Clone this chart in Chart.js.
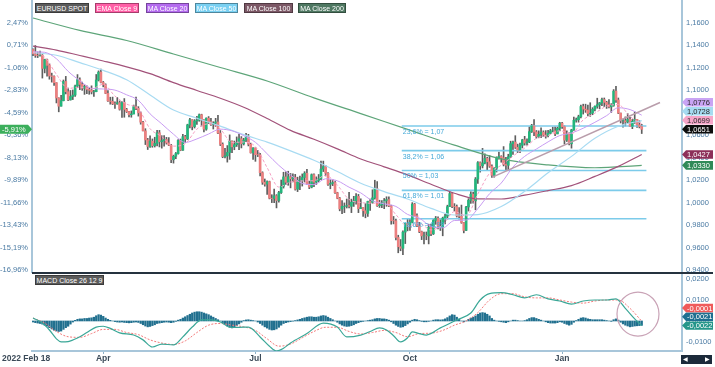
<!DOCTYPE html>
<html>
<head>
<meta charset="utf-8">
<title>EURUSD SPOT</title>
<script src="https://cdn.jsdelivr.net/npm/chart.js@4.4.1/dist/chart.umd.min.js"></script>
<style>
    html, body { margin: 0; padding: 0; background: #fff; }
    #wrap { position: relative; width: 715px; height: 367px; overflow: hidden; font-family: "Liberation Sans", Arial, sans-serif; }
    #priceChart { position: absolute; left: 0; top: 0; }
    #macdChart { position: absolute; left: 0; top: 273px; }
    .badge { position: absolute; height: 10px; line-height: 9px; font-size: 7px; color: #fff; text-align: center;
             border: 1px solid rgba(0, 0, 0, 0.35); box-sizing: border-box; white-space: nowrap; }
    #sep { position: absolute; left: 32px; top: 272px; width: 681px; height: 2px; background: #25323f; }
    #firstDate { position: absolute; left: 2px; top: 353px; font-size: 8.5px; font-weight: bold; color: #3b4a58; }
    #nav { position: absolute; left: 681px; top: 355px; width: 31px; height: 9px; background: #1c2a3a; color: #fff;
           font-size: 6px; line-height: 9px; }
    #nav span { position: absolute; top: 0; }
</style>
</head>
<body>
<div id="wrap">
    <canvas id="priceChart" width="715" height="273"></canvas>
    <canvas id="macdChart" width="715" height="94"></canvas>
    <div id="sep"></div>

    <div class="badge" style="left:35px;top:3px;width:54px;background:#5b5b5b;">EURUSD SPOT</div>
    <div class="badge" style="left:95px;top:3px;width:44px;background:#ff5fa6;">EMA Close 9</div>
    <div class="badge" style="left:146px;top:3px;width:43px;background:#b46bef;">MA Close 20</div>
    <div class="badge" style="left:195px;top:3px;width:43px;background:#79d0f2;">MA Close 50</div>
    <div class="badge" style="left:244px;top:3px;width:49px;background:#7c5866;">MA Close 100</div>
    <div class="badge" style="left:298px;top:3px;width:48px;background:#4f7862;">MA Close 200</div>
    <div class="badge" style="left:35px;top:275px;width:69px;background:#5b5b5b;">MACD Close 26 12 9</div>

    <div id="firstDate">2022 Feb 18</div>
    <div id="nav"><span style="left:2px;">&#9664;</span><span style="left:24px;">&#9654;</span></div>
</div>

<script>
// ---- data: EURUSD daily sessions, 2022-02-18 (index 0) to 2023-02-17 (index 260) ----
const firstOpen = 1.1360;
const closes = [
    1.1322, 1.1308, 1.1307, 1.1309, 1.1192, 1.1270, 1.1219, 1.1125, 1.1121, 1.1065,
    1.0929, 1.0856, 1.0905, 1.1076, 1.0985, 1.0912, 1.0942, 1.0955, 1.1036, 1.1092,
    1.1050, 1.1015, 1.1031, 1.1005, 1.0997, 1.0983, 1.0985, 1.1089, 1.1159, 1.1067,
    1.1046, 1.0970, 1.0903, 1.0899, 1.0877, 1.0876, 1.0887, 1.0829, 1.0889, 1.0827,
    1.0808, 1.0780, 1.0787, 1.0852, 1.0836, 1.0797, 1.0714, 1.0637, 1.0556, 1.0498,
    1.0545, 1.0505, 1.0525, 1.0620, 1.0540, 1.0550, 1.0560, 1.0530, 1.0510, 1.0380,
    1.0411, 1.0435, 1.0552, 1.0465, 1.0585, 1.0565, 1.0690, 1.0735, 1.0675, 1.0725,
    1.0732, 1.0780, 1.0734, 1.0652, 1.0749, 1.0719, 1.0694, 1.0705, 1.0716, 1.0617,
    1.0518, 1.0408, 1.0414, 1.0445, 1.0545, 1.0495, 1.0514, 1.0534, 1.0567, 1.0522,
    1.0555, 1.0583, 1.0518, 1.0442, 1.0484, 1.0425, 1.0424, 1.0265, 1.0180, 1.0163,
    1.0185, 1.0038, 1.0035, 1.0060, 1.0018, 1.0088, 1.0143, 1.0227, 1.0180, 1.0229,
    1.0211, 1.0224, 1.0118, 1.0198, 1.0198, 1.0222, 1.0260, 1.0165, 1.0137, 1.0247,
    1.0181, 1.0197, 1.0211, 1.0297, 1.0320, 1.0260, 1.0162, 1.0169, 1.0178, 1.0087,
    1.0038, 0.9943, 0.9966, 0.9967, 0.9973, 0.9966, 1.0002, 1.0016, 1.0054, 0.9945,
    0.9955, 0.9927, 0.9903, 1.0010, 1.0001, 1.0041, 1.0123, 0.9972, 0.9979, 0.9998,
    1.0015, 1.0026, 0.9970, 0.9839, 0.9837, 0.9689, 0.9607, 0.9593, 0.9737, 0.9813,
    0.9802, 0.9824, 0.9985, 0.9883, 0.9792, 0.9741, 0.9703, 0.9704, 0.9703, 0.9780,
    0.9722, 0.9841, 0.9860, 0.9775, 0.9779, 0.9861, 0.9879, 0.9963, 1.0079, 0.9965,
    0.9964, 0.9881, 0.9877, 0.9822, 0.9752, 0.9960, 1.0019, 1.0074, 1.0014, 1.0208,
    1.0354, 1.0326, 1.0352, 1.0392, 1.0362, 1.0323, 1.0242, 1.0304, 1.0397, 1.0409,
    1.0397, 1.0338, 1.0331, 1.0406, 1.0523, 1.0537, 1.0491, 1.0466, 1.0509, 1.0557,
    1.0529, 1.0538, 1.0630, 1.0681, 1.0627, 1.0586, 1.0606, 1.0625, 1.0600, 1.0594,
    1.0615, 1.0637, 1.0637, 1.0610, 1.0660, 1.0705, 1.0674, 1.0554, 1.0606, 1.0522,
    1.0645, 1.0731, 1.0736, 1.0762, 1.0853, 1.0830, 1.0822, 1.0790, 1.0794, 1.0829,
    1.0855, 1.0870, 1.0886, 1.0915, 1.0890, 1.0870, 1.0850, 1.0863, 1.0990, 1.0911,
    1.0795, 1.0726, 1.0727, 1.0715, 1.0740, 1.0677, 1.0722, 1.0739, 1.0690, 1.0675,
    1.0651
];
const highs = [
    1.1366, 1.1395, 1.1339, 1.1345, 1.1315, 1.1274, 1.1275, 1.1234, 1.1150, 1.1126,
    1.1065, 1.0931, 1.0952, 1.1089, 1.1121, 1.1018, 1.0996, 1.1000, 1.1043, 1.1137,
    1.1109, 1.1070, 1.1045, 1.1038, 1.1018, 1.1037, 1.0997, 1.1138, 1.1170, 1.1185,
    1.1076, 1.1055, 1.0994, 1.0936, 1.0937, 1.0895, 1.0933, 1.0903, 1.0897, 1.0924,
    1.0837, 1.0811, 1.0814, 1.0866, 1.0936, 1.0852, 1.0805, 1.0721, 1.0656, 1.0570,
    1.0593, 1.0565, 1.0580, 1.0642, 1.0641, 1.0594, 1.0594, 1.0579, 1.0577, 1.0517,
    1.0421, 1.0445, 1.0560, 1.0564, 1.0606, 1.0597, 1.0696, 1.0749, 1.0737, 1.0737,
    1.0765, 1.0787, 1.0785, 1.0738, 1.0753, 1.0764, 1.0748, 1.0718, 1.0748, 1.0774,
    1.0640, 1.0530, 1.0481, 1.0506, 1.0601, 1.0548, 1.0546, 1.0583, 1.0606, 1.0586,
    1.0571, 1.0615, 1.0606, 1.0528, 1.0488, 1.0486, 1.0463, 1.0437, 1.0273, 1.0209,
    1.0192, 1.0190, 1.0069, 1.0119, 1.0070, 1.0100, 1.0200, 1.0269, 1.0273, 1.0278,
    1.0258, 1.0254, 1.0250, 1.0225, 1.0234, 1.0254, 1.0274, 1.0294, 1.0190, 1.0254,
    1.0254, 1.0228, 1.0249, 1.0368, 1.0368, 1.0328, 1.0265, 1.0202, 1.0203, 1.0190,
    1.0091, 1.0045, 1.0016, 0.9996, 1.0031, 1.0091, 1.0030, 1.0055, 1.0079, 1.0072,
    1.0033, 0.9955, 0.9990, 1.0012, 1.0030, 1.0113, 1.0198, 1.0187, 1.0020, 1.0017,
    1.0036, 1.0051, 1.0050, 0.9976, 0.9876, 0.9853, 0.9709, 0.9671, 0.9749, 0.9815,
    0.9854, 0.9853, 0.9999, 0.9992, 0.9900, 0.9823, 0.9746, 0.9737, 0.9738, 0.9807,
    0.9808, 0.9854, 0.9876, 0.9873, 0.9848, 0.9870, 0.9894, 0.9976, 1.0094, 1.0088,
    0.9990, 0.9978, 0.9954, 0.9977, 0.9823, 0.9965, 1.0034, 1.0096, 1.0093, 1.0222,
    1.0364, 1.0361, 1.0481, 1.0433, 1.0403, 1.0417, 1.0335, 1.0310, 1.0406, 1.0448,
    1.0416, 1.0497, 1.0401, 1.0429, 1.0545, 1.0545, 1.0594, 1.0519, 1.0528, 1.0562,
    1.0588, 1.0567, 1.0673, 1.0695, 1.0736, 1.0640, 1.0637, 1.0664, 1.0637, 1.0639,
    1.0641, 1.0650, 1.0670, 1.0673, 1.0672, 1.0713, 1.0712, 1.0683, 1.0637, 1.0619,
    1.0651, 1.0760, 1.0751, 1.0776, 1.0866, 1.0874, 1.0874, 1.0867, 1.0887, 1.0843,
    1.0860, 1.0927, 1.0890, 1.0928, 1.0929, 1.0900, 1.0914, 1.0879, 1.1004, 1.1033,
    1.0929, 1.0795, 1.0742, 1.0761, 1.0790, 1.0756, 1.0738, 1.0805, 1.0740, 1.0728,
    1.0695
];
const lows = [
    1.1306, 1.1290, 1.1288, 1.1300, 1.1106, 1.1152, 1.1123, 1.1096, 1.1070, 1.1040,
    1.0885, 1.0806, 1.0856, 1.0903, 1.0965, 1.0905, 1.0910, 1.0915, 1.0942, 1.1020,
    1.1003, 1.0997, 1.0961, 1.0967, 1.0962, 1.0965, 1.0944, 1.0984, 1.1080, 1.1064,
    1.1028, 1.0967, 1.0899, 1.0874, 1.0870, 1.0837, 1.0873, 1.0821, 1.0757, 1.0758,
    1.0800, 1.0760, 1.0758, 1.0787, 1.0825, 1.0768, 1.0696, 1.0637, 1.0515, 1.0471,
    1.0490, 1.0491, 1.0493, 1.0502, 1.0494, 1.0483, 1.0501, 1.0519, 1.0505, 1.0354,
    1.0350, 1.0389, 1.0430, 1.0460, 1.0462, 1.0532, 1.0559, 1.0664, 1.0646, 1.0662,
    1.0694, 1.0722, 1.0680, 1.0627, 1.0642, 1.0702, 1.0685, 1.0653, 1.0675, 1.0612,
    1.0506, 1.0398, 1.0397, 1.0359, 1.0383, 1.0444, 1.0469, 1.0498, 1.0470, 1.0485,
    1.0511, 1.0540, 1.0503, 1.0439, 1.0382, 1.0366, 1.0408, 1.0236, 1.0161, 1.0145,
    1.0071, 1.0032, 0.9999, 0.9998, 0.9952, 1.0004, 1.0080, 1.0128, 1.0160, 1.0153,
    1.0130, 1.0183, 1.0110, 1.0097, 1.0113, 1.0146, 1.0182, 1.0160, 1.0123, 1.0130,
    1.0141, 1.0160, 1.0183, 1.0202, 1.0275, 1.0236, 1.0152, 1.0122, 1.0150, 1.0080,
    1.0033, 0.9926, 0.9901, 0.9910, 0.9951, 0.9951, 0.9910, 0.9965, 0.9985, 0.9910,
    0.9945, 0.9877, 0.9864, 0.9876, 0.9929, 0.9993, 1.0030, 0.9966, 0.9956, 0.9954,
    0.9945, 0.9966, 0.9964, 0.9807, 0.9810, 0.9668, 0.9553, 0.9571, 0.9536, 0.9635,
    0.9748, 0.9751, 0.9818, 0.9873, 0.9786, 0.9732, 0.9670, 0.9631, 0.9669, 0.9632,
    0.9705, 0.9715, 0.9806, 0.9765, 0.9751, 0.9704, 0.9809, 0.9853, 0.9963, 0.9954,
    0.9924, 0.9871, 0.9851, 0.9815, 0.9730, 0.9750, 0.9924, 0.9992, 0.9994, 0.9935,
    1.0170, 1.0270, 1.0307, 1.0343, 1.0290, 1.0312, 1.0223, 1.0225, 1.0271, 1.0386,
    1.0358, 1.0325, 1.0290, 1.0290, 1.0398, 1.0428, 1.0480, 1.0444, 1.0443, 1.0485,
    1.0510, 1.0509, 1.0532, 1.0622, 1.0595, 1.0572, 1.0575, 1.0577, 1.0585, 1.0572,
    1.0584, 1.0610, 1.0627, 1.0595, 1.0610, 1.0637, 1.0659, 1.0520, 1.0542, 1.0512,
    1.0483, 1.0640, 1.0714, 1.0714, 1.0752, 1.0786, 1.0801, 1.0769, 1.0766, 1.0780,
    1.0813, 1.0838, 1.0833, 1.0860, 1.0853, 1.0836, 1.0840, 1.0801, 1.0855, 1.0890,
    1.0790, 1.0707, 1.0669, 1.0680, 1.0706, 1.0673, 1.0656, 1.0703, 1.0667, 1.0663,
    1.0613
];

// moving averages at regular session indexes
const ema9At = [0, 5, 10, 15, 20, 25, 30, 35, 40, 45, 50, 55, 60, 65, 70, 75, 80, 85, 90, 95, 100,
    105, 110, 115, 120, 125, 130, 135, 140, 145, 150, 155, 160, 165, 170, 175, 180, 185, 190, 195, 200,
    205, 210, 215, 220, 225, 230, 235, 240, 245, 250, 255, 260];
const ema9 = [1.1340, 1.1292, 1.1139, 1.1014, 1.1025, 1.1010, 1.1051, 1.0946, 1.0875, 1.0833, 1.0656,
    1.0586, 1.0501, 1.0523, 1.0652, 1.0700, 1.0652, 1.0533, 1.0538, 1.0496, 1.0310,
    1.0137, 1.0182, 1.0192, 1.0194, 1.0242, 1.0154, 1.0027, 1.0000, 0.9993, 1.0005,
    0.9892, 0.9788, 0.9814, 0.9756, 0.9801, 0.9919, 0.9881, 1.0076, 1.0260, 1.0331,
    1.0413, 1.0483, 1.0571, 1.0596, 1.0638, 1.0611, 1.0735, 1.0794, 1.0856, 1.0870, 1.0764, 1.0699];
const ma20At = ema9At;
const ma20 = [1.1340, 1.1335, 1.1278, 1.1166, 1.1083, 1.1015, 1.1009, 1.0999, 1.0957, 1.0908, 1.0788,
    1.0699, 1.0607, 1.0534, 1.0565, 1.0609, 1.0652, 1.0637, 1.0594, 1.0535, 1.0433,
    1.0330, 1.0245, 1.0170, 1.0159, 1.0211, 1.0193, 1.0136, 1.0085, 1.0015, 0.9988,
    0.9965, 0.9894, 0.9861, 0.9788, 0.9775, 0.9840, 0.9844, 0.9946, 1.0078, 1.0173,
    1.0315, 1.0410, 1.0475, 1.0539, 1.0595, 1.0618, 1.0660, 1.0713, 1.0772, 1.0842, 1.0826, 1.0776];
const slowAt = [0, 10, 20, 30, 40, 50, 60, 70, 80, 90, 100, 110, 120, 130, 140, 150, 160, 170, 180,
    190, 200, 210, 220, 230, 240, 250, 260];
const ma50 = [1.1333, 1.1309, 1.1243, 1.1175, 1.1091, 1.0956, 1.0822, 1.0749, 1.0679, 1.0603, 1.0537,
    1.0459, 1.0375, 1.0275, 1.0171, 1.0097, 1.0031, 0.9948, 0.9889, 0.9893, 0.9964,
    1.0099, 1.0264, 1.0410, 1.0571, 1.0678, 1.0728];
const ma100 = [1.1390, 1.1355, 1.1307, 1.1258, 1.1206, 1.1145, 1.1066, 1.0996, 1.0927, 1.0847, 1.0747,
    1.0641, 1.0562, 1.0477, 1.0387, 1.0317, 1.0245, 1.0162, 1.0082, 1.0032, 1.0031,
    1.0065, 1.0106, 1.0150, 1.0232, 1.0321, 1.0427];
const ma200At = [0, 20, 40, 60, 80, 100, 120, 140, 160, 180, 200, 220, 240, 260];
const ma200 = [1.1640, 1.1530, 1.1440, 1.1320, 1.1200, 1.1080, 1.0930, 1.0790, 1.0650, 1.0510, 1.0388,
    1.0334, 1.0309, 1.0330];

// Fibonacci retracement (high 2023-02-02, low 2022-09-28) and the drawn trend line
const fibFrom = 157.5, fibTo = 262;
const fibLevels = [1.0680, 1.0461, 1.0285, 1.0108, 0.9856];
const fibLabels = ['23,6% = 1,07', '38,2% = 1,06', '50% = 1,03', '61,8% = 1,01', '78,6% = 0,99'];
const trendAt = [196, 267.8];
const trendVals = [1.0223, 1.0889];

// MACD 26 12 9
const macdAt = [0, 4, 7, 10, 12, 15, 19, 23, 27, 30, 33, 37, 43, 47, 51, 55, 60, 64, 68, 72, 76, 80, 84,
    88, 92, 97, 101, 104, 107, 110, 117, 124, 130, 134, 140, 144, 148, 151, 154, 157, 160, 162, 165,
    168, 174, 181, 187, 191, 195, 200, 205, 210, 215, 220, 225, 230, 235, 240, 245, 249, 253, 257, 260];
const macdVals = [0.0014, -0.0010, -0.0043, -0.0085, -0.0100, -0.0098, -0.0081, -0.0055, -0.0029, -0.0025,
    -0.0035, -0.0057, -0.0067, -0.0090, -0.0124, -0.0110, -0.0114, -0.0076, -0.0029, 0.0005, 0.0005,
    -0.0005, -0.0029, -0.0030, -0.0029, -0.0076, -0.0120, -0.0143, -0.0130, -0.0105, -0.0060, -0.0010,
    -0.0029, -0.0076, -0.0067, -0.0050, -0.0033, -0.0043, -0.0070, -0.0100, -0.0080, -0.0052, -0.0060,
    -0.0067, -0.0033, 0.0005, 0.0038, 0.0100, 0.0130, 0.0135, 0.0125, 0.0110, 0.0125, 0.0105, 0.0095,
    0.0080, 0.0095, 0.0100, 0.0100, 0.0105, 0.0060, 0.0010, -0.0022];
const signalAt = [0, 5, 10, 15, 20, 25, 30, 35, 40, 45, 50, 55, 60, 65, 70, 75, 80, 85, 90, 95, 100,
    105, 110, 115, 120, 125, 130, 135, 140, 145, 150, 155, 160, 165, 170, 175, 180, 185, 190, 195, 200,
    205, 210, 215, 220, 225, 230, 235, 240, 245, 250, 255, 260];
const signalVals = [0.0014, -0.0010, -0.0050, -0.0075, -0.0078, -0.0060, -0.0040, -0.0040, -0.0055,
    -0.0065, -0.0090, -0.0105, -0.0112, -0.0095, -0.0055, -0.0020, -0.0012, -0.0020, -0.0028, -0.0045,
    -0.0085, -0.0120, -0.0110, -0.0080, -0.0050, -0.0030, -0.0030, -0.0050, -0.0062, -0.0055, -0.0045,
    -0.0055, -0.0075, -0.0060, -0.0058, -0.0045, -0.0020, 0.0000, 0.0040, 0.0100, 0.0130, 0.0130,
    0.0115, 0.0110, 0.0110, 0.0100, 0.0090, 0.0085, 0.0095, 0.0100, 0.0100, 0.0060, -0.0001];
// histogram, one bar per session, in units of 0.0001
const histBp = [
    -5, -8, -10, -12, -15, -20, -25, -32, -38, -44, -48, -50, -48, -40, -32, -25, -15, -5, 3, 8,
    10, 10, 12, 12, 14, 15, 18, 25, 30, 28, 22, 14, 8, 3, 0, -3, -5, -6, -5, -7,
    -8, -9, -8, -6, -5, -7, -12, -18, -24, -28, -26, -22, -18, -12, -10, -8, -6, -5, -6, -8,
    -6, -2, 4, 8, 14, 20, 26, 32, 38, 42, 44, 44, 42, 38, 34, 30, 24, 18, 12, 6,
    0, -8, -16, -24, -30, -33, -28, -22, -14, -6, 2, 5, 6, 4, 2, 0, -5, -12, -20, -28,
    -34, -40, -43, -42, -38, -30, -20, -12, -8, -5, -3, -1, 2, 5, 8, 12, 15, 18, 20, 20,
    18, 18, 20, 24, 26, 24, 18, 12, 6, 0, -6, -14, -20, -24, -26, -25, -22, -18, -12, -8,
    -4, -2, 0, 2, 4, 6, 10, 12, 12, 10, 10, 8, 4, -4, -12, -20, -26, -30, -28, -22,
    -14, -6, 4, 8, 6, 2, -2, -4, -4, -2, 0, 4, 6, 6, 5, 6, 10, 16, 24, 30,
    28, 18, 8, 0, -4, 0, 8, 14, 18, 24, 32, 38, 40, 38, 32, 24, 12, 4, 0, -2,
    -4, -6, -8, -4, 0, 4, 4, 2, 0, 0, 2, 6, 12, 16, 16, 12, 8, 4, 0, -4,
    -8, -10, -10, -10, -8, -4, -6, -12, -16, -20, -16, -6, 2, 8, 14, 16, 14, 10, 8, 6,
    6, 6, 6, 6, 4, 2, 0, -2, 6, 10, 4, -6, -14, -20, -24, -28, -26, -24, -23, -22,
    -21
];
const circleAt = [258.4, 0.0033];

// axis ticks
const basePrice = 1.1320;
const priceTicks = [0.94, 0.96, 0.98, 1.00, 1.02, 1.04, 1.06, 1.08, 1.10, 1.12, 1.14, 1.16];
const macdTicks = [0.02, 0.01, 0, -0.01];
const monthTickAt = [30, 95, 161, 226];
const monthTickLabels = ['Apr', 'Jul', 'Oct', 'Jan'];

// ---- view settings ----
const FONT = '"Liberation Sans", Arial, sans-serif';
const X_MIN = -0.43, X_MAX = 277.2;
const P_MAX = 1.18, P_MIN = 0.93822;
const M_MAX = 0.0219, M_MIN = -0.0143;
const AXIS_TEXT = '#4a7aa3';
const AXIS_LINE = '#a8c6da';
const UP = '#22b67c', DOWN = '#ec7f7f', WICK = '#5e5e5e';

Chart.defaults.font.family = FONT;

const fmtComma = (v, d) => v.toFixed(d).replace('.', ',');
const pairs = (at, vals) => at.map((x, i) => ({ x: x, y: vals[i] }));
const last = arr => arr[arr.length - 1];

function fixedWidth(w) {
    return function (scale) {
        scale.width = w;
        scale.paddingTop = 0;
        scale.paddingBottom = 0;
    };
}

// price tags on the right edge, stacked so they do not overlap
function drawTags(chart, scale, items, h) {
    const ctx = chart.ctx;
    const x0 = chart.chartArea.right;
    const list = items.map(t => Object.assign({}, t, { py: scale.getPixelForValue(t.value) }))
        .sort((a, b) => b.py - a.py);
    let prev = Infinity;
    list.forEach(t => {
        t.py = Math.min(t.py, prev - h - 0.4);
        prev = t.py;
    });
    ctx.save();
    ctx.font = '7.5px ' + FONT;
    ctx.textBaseline = 'middle';
    ctx.textAlign = 'left';
    list.forEach(t => {
        const y = t.py;
        ctx.fillStyle = t.bg;
        ctx.beginPath();
        ctx.moveTo(x0, y);
        ctx.lineTo(x0 + 4, y - h / 2);
        ctx.lineTo(x0 + 31, y - h / 2);
        ctx.lineTo(x0 + 31, y + h / 2);
        ctx.lineTo(x0 + 4, y + h / 2);
        ctx.closePath();
        ctx.fill();
        ctx.fillStyle = t.fg;
        ctx.fillText(t.text, x0 + 5, y + 0.5);
    });
    ctx.restore();
}

// ---- candles ----
// FX trades round the clock, so each session opens where the previous one closed
const opens = closes.map((c, i) => (i === 0 ? firstOpen : closes[i - 1]));
const wickData = closes.map((c, i) => ({ x: i, y: [lows[i], highs[i]] }));
const bodyData = closes.map((c, i) => ({ x: i, y: [opens[i], c] }));
const bodyColors = closes.map((c, i) => (c >= opens[i] ? UP : DOWN));

const lineStyle = (color, width) => ({
    type: 'line', borderColor: color, borderWidth: width, pointRadius: 0,
    cubicInterpolationMode: 'monotone', fill: false
});

const fibSets = fibLevels.map(v => Object.assign(lineStyle('#7ccbea', 1.6), {
    data: [{ x: fibFrom, y: v }, { x: fibTo, y: v }], order: 8
}));

const priceOverlay = {
    id: 'priceOverlay',
    afterDatasetsDraw(chart) {
        const ctx = chart.ctx;
        const xs = chart.scales.x, ys = chart.scales.y;
        ctx.save();
        ctx.font = '7px ' + FONT;
        ctx.fillStyle = '#45a9d8';
        ctx.textBaseline = 'middle';
        fibLevels.forEach((v, i) => {
            ctx.fillText(fibLabels[i], xs.getPixelForValue(fibFrom) + 1, ys.getPixelForValue(v) + 6);
        });
        ctx.restore();
    },
    afterDraw(chart) {
        const ys = chart.scales.y;
        drawTags(chart, ys, [
            { value: last(ma20), text: fmtComma(last(ma20), 4), bg: '#c9a4f4', fg: '#2b2b2b' },
            { value: last(ma50), text: fmtComma(last(ma50), 4), bg: '#a6dbf1', fg: '#2b2b2b' },
            { value: last(ema9), text: fmtComma(last(ema9), 4), bg: '#f6a6c9', fg: '#2b2b2b' },
            { value: last(closes), text: fmtComma(last(closes), 4), bg: '#0d0d0d', fg: '#ffffff' },
            { value: last(ma100), text: fmtComma(last(ma100), 4), bg: '#8c2f59', fg: '#ffffff' },
            { value: last(ma200), text: fmtComma(last(ma200), 4), bg: '#2f8a58', fg: '#ffffff' }
        ], 8.6);

        // change since the first session, on the left axis
        const ctx = chart.ctx;
        const y = ys.getPixelForValue(last(closes));
        const x1 = chart.chartArea.left;
        ctx.save();
        ctx.fillStyle = '#3caf5c';
        ctx.beginPath();
        ctx.moveTo(0, y - 4.5);
        ctx.lineTo(x1 - 4, y - 4.5);
        ctx.lineTo(x1, y);
        ctx.lineTo(x1 - 4, y + 4.5);
        ctx.lineTo(0, y + 4.5);
        ctx.closePath();
        ctx.fill();
        ctx.fillStyle = '#fff';
        ctx.font = '7.5px ' + FONT;
        ctx.textBaseline = 'middle';
        ctx.fillText(fmtComma((last(closes) / basePrice - 1) * 100, 2) + '%', 2, y + 0.5);
        ctx.restore();
    }
};

const noGrid = { display: false, drawTicks: false, tickLength: 0 };

new Chart(document.getElementById('priceChart'), {
    type: 'bar',
    data: {
        datasets: [
            Object.assign(lineStyle('#b99dab', 1.5), { data: pairs(trendAt, trendVals), order: 1, cubicInterpolationMode: 'default' }),
            Object.assign(lineStyle('#f4a0c4', 1), { data: pairs(ema9At, ema9), order: 2, borderDash: [3, 2] }),
            Object.assign(lineStyle('#c89cf2', 1), { data: pairs(ma20At, ma20), order: 3 }),
            Object.assign(lineStyle('#a8dbf2', 1.2), { data: pairs(slowAt, ma50), order: 4 }),
            Object.assign(lineStyle('#a2527a', 1.2), { data: pairs(slowAt, ma100), order: 5 }),
            Object.assign(lineStyle('#5da579', 1.2), { data: pairs(ma200At, ma200), order: 6 }),
            {
                type: 'bar', data: bodyData, backgroundColor: bodyColors, borderWidth: 0,
                barThickness: 2, grouped: false, order: 7
            },
            ...fibSets,
            {
                type: 'bar', data: wickData, backgroundColor: WICK, borderWidth: 0,
                barThickness: 1, grouped: false, order: 9
            }
        ]
    },
    options: {
        responsive: false,
        animation: false,
        events: [],
        layout: { padding: { left: 0, right: 0, top: 0, bottom: 1 } },
        plugins: { legend: { display: false }, tooltip: { enabled: false } },
        scales: {
            x: { type: 'linear', min: X_MIN, max: X_MAX, offset: false, display: false },
            yl: {
                type: 'linear', position: 'left', min: P_MIN, max: P_MAX,
                afterFit: fixedWidth(32),
                afterBuildTicks: s => { s.ticks = priceTicks.map(v => ({ value: v })); },
                ticks: {
                    autoSkip: false, padding: 4, color: AXIS_TEXT, font: { size: 7.5 },
                    callback: v => fmtComma((v / basePrice - 1) * 100, 2) + '%'
                },
                grid: noGrid,
                border: { display: true, color: AXIS_LINE, width: 2 }
            },
            y: {
                type: 'linear', position: 'right', min: P_MIN, max: P_MAX,
                afterFit: fixedWidth(33),
                afterBuildTicks: s => { s.ticks = priceTicks.map(v => ({ value: v })); },
                ticks: {
                    autoSkip: false, padding: 4, color: AXIS_TEXT, font: { size: 7.5 },
                    callback: v => fmtComma(v, 4)
                },
                grid: noGrid,
                border: { display: true, color: AXIS_LINE, width: 2 }
            }
        }
    },
    plugins: [priceOverlay]
});

// ---- MACD panel ----
const macdOverlay = {
    id: 'macdOverlay',
    afterDraw(chart) {
        const ctx = chart.ctx;
        const xs = chart.scales.x, ys = chart.scales.y;
        ctx.save();
        ctx.strokeStyle = '#c9a3b6';
        ctx.lineWidth = 1.2;
        ctx.beginPath();
        ctx.ellipse(xs.getPixelForValue(circleAt[0]), ys.getPixelForValue(circleAt[1]), 21, 22, 0, 0, Math.PI * 2);
        ctx.stroke();
        ctx.restore();

        drawTags(chart, ys, [
            { value: last(signalVals), text: fmtComma(last(signalVals), 4), bg: '#ef5a5a', fg: '#ffffff' },
            { value: last(histBp) / 10000, text: fmtComma(last(histBp) / 10000, 4), bg: '#1f6f90', fg: '#ffffff' },
            { value: last(macdVals), text: fmtComma(last(macdVals), 4), bg: '#24968a', fg: '#ffffff' }
        ], 8.4);
    }
};

new Chart(document.getElementById('macdChart'), {
    type: 'bar',
    data: {
        datasets: [
            Object.assign(lineStyle('#3aa797', 1.2), { data: pairs(macdAt, macdVals), order: 1 }),
            Object.assign(lineStyle('#f27a7a', 1), { data: pairs(signalAt, signalVals), order: 2, borderDash: [2, 1.5] }),
            {
                type: 'bar', data: histBp.map((v, i) => ({ x: i, y: v / 10000 })),
                backgroundColor: '#21708f', borderWidth: 0, barThickness: 1.6, order: 3
            }
        ]
    },
    options: {
        responsive: false,
        animation: false,
        events: [],
        layout: { padding: { left: 32, right: 0, top: 2, bottom: 0 } },
        plugins: { legend: { display: false }, tooltip: { enabled: false } },
        scales: {
            x: {
                type: 'linear', min: X_MIN, max: X_MAX, offset: false,
                afterFit: s => { s.height = 16; s.paddingLeft = 0; s.paddingRight = 0; },
                afterBuildTicks: s => { s.ticks = monthTickAt.map(v => ({ value: v })); },
                ticks: {
                    autoSkip: false, maxRotation: 0, padding: 0, color: '#3b4a58',
                    font: { size: 8.5, weight: 'bold' },
                    callback: (v, i) => monthTickLabels[i]
                },
                grid: { display: true, offset: false, drawOnChartArea: false, tickLength: 3, color: '#8fb1c6' },
                border: { display: true, color: AXIS_LINE, width: 2 }
            },
            y: {
                type: 'linear', position: 'right', min: M_MIN, max: M_MAX,
                afterFit: fixedWidth(33),
                afterBuildTicks: s => { s.ticks = macdTicks.map(v => ({ value: v })); },
                ticks: {
                    autoSkip: false, padding: 4, color: AXIS_TEXT, font: { size: 7.5 },
                    callback: v => fmtComma(v, 4)
                },
                grid: noGrid,
                border: { display: true, color: AXIS_LINE, width: 2 }
            }
        }
    },
    plugins: [macdOverlay]
});
</script>
</body>
</html>
